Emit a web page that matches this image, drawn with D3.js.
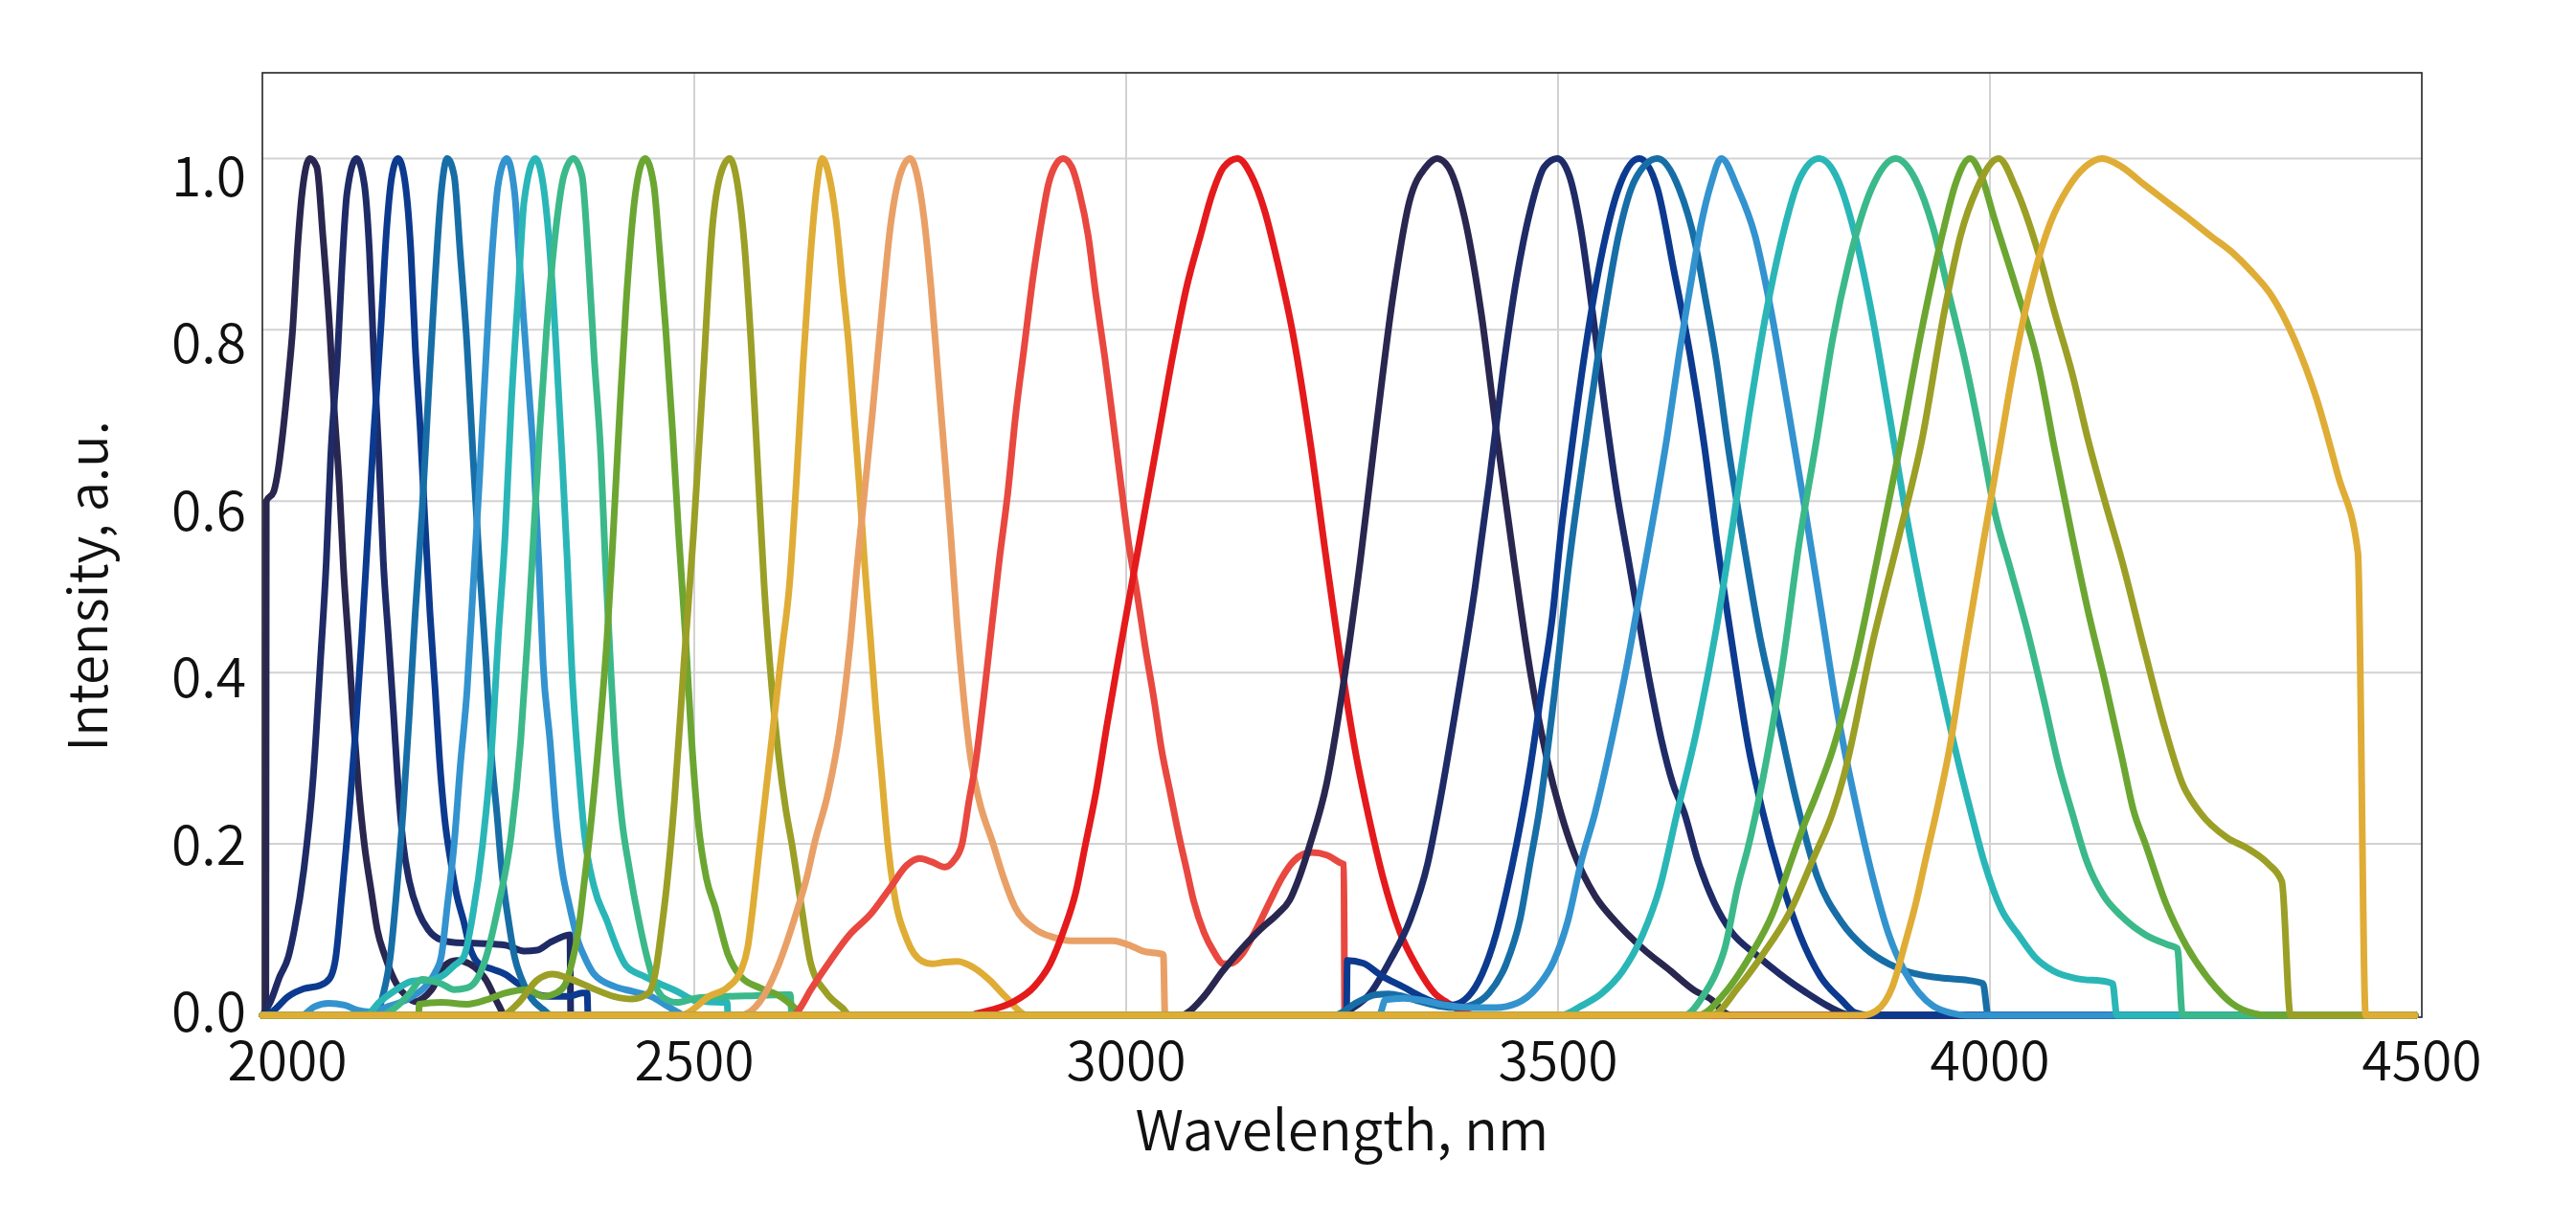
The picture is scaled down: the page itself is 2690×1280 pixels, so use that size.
<!DOCTYPE html>
<html lang="en">

<head>
    <meta charset="UTF-8">
    <title>spectra</title>
    <script src="https://cdn.jsdelivr.net/npm/d3@7"></script>
    <style>
        html, body { margin: 0; padding: 0; background: #fff; }
        #chart { width: 2690px; height: 1280px; }
        text { font-family: "Noto Sans CJK SC", "Noto Sans", sans-serif; font-weight: 350; fill: #111; }
    </style>
</head>

<body>
    <div id="chart"></div>
</body>

<script>
    // [wavelength nm, intensity], one array per filter
    const c2055 = [[2004,0],[2004.5,0.6],[2013,0.611],[2018,0.635],[2024,0.683],[2030,0.743],[2035,0.8],[2041,0.9],[2046,0.96],[2055,1.0],[2063,0.99],[2070,0.91],[2078,0.8],[2083,0.71],[2089,0.62],[2094,0.52],[2100,0.43],[2105,0.35],[2111,0.27],[2118,0.2],[2126,0.145],[2133,0.1],[2142,0.069],[2155,0.037],[2167,0.022],[2177,0.016],[2186,0.02],[2196,0.03],[2211,0.058],[2225,0.064],[2240,0.06],[2259,0.041],[2273,0.013],[2281,0],[4492,0]];
    const c2109 = [[2000,0],[2009,0.015],[2020,0.045],[2030,0.068],[2037,0.1],[2048,0.17],[2059,0.28],[2067,0.41],[2074,0.53],[2079,0.65],[2087,0.77],[2092,0.87],[2098,0.96],[2109,1.0],[2118,0.97],[2124,0.89],[2129,0.77],[2135,0.65],[2140,0.53],[2146,0.44],[2152,0.35],[2157,0.27],[2163,0.2],[2170,0.157],[2181,0.12],[2192,0.1],[2207,0.088],[2222,0.085],[2251,0.084],[2281,0.082],[2303,0.075],[2318,0.076],[2333,0.085],[2351,0.093],[2356,0.094],[2357,0],[4492,0]];
    const c2157 = [[2000,0],[2011,0.004],[2030,0.022],[2048,0.031],[2067,0.035],[2078,0.043],[2085,0.068],[2092,0.14],[2100,0.23],[2107,0.32],[2115,0.44],[2122,0.56],[2129,0.68],[2137,0.8],[2144,0.92],[2150,0.98],[2157,1.0],[2164,0.98],[2172,0.89],[2177,0.78],[2183,0.68],[2188,0.58],[2194,0.47],[2200,0.38],[2205,0.3],[2211,0.23],[2218,0.18],[2225,0.14],[2233,0.11],[2240,0.08],[2251,0.06],[2266,0.054],[2281,0.048],[2296,0.037],[2314,0.026],[2333,0.022],[2355,0.022],[2370,0.026],[2376,0.026],[2377,0],[4492,0]];
    const c2214 = [[2000,0],[2130,0],[2140,0.025],[2148,0.068],[2155,0.14],[2163,0.24],[2170,0.35],[2177,0.47],[2185,0.59],[2192,0.72],[2200,0.86],[2207,0.96],[2214,1.0],[2222,0.98],[2229,0.89],[2237,0.78],[2244,0.65],[2251,0.53],[2259,0.41],[2264,0.32],[2272,0.23],[2277,0.17],[2285,0.11],[2292,0.068],[2299,0.045],[2310,0.022],[2325,0.007],[2335,0],[4492,0]];
    const c2283 = [[2000,0],[2045,0],[2060,0.01],[2077,0.014],[2095,0.012],[2110,0.006],[2125,0.004],[2145,0.01],[2170,0.02],[2190,0.035],[2200,0.05],[2207,0.068],[2214,0.127],[2222,0.2],[2229,0.29],[2237,0.38],[2244,0.5],[2251,0.62],[2259,0.77],[2266,0.89],[2273,0.97],[2283,1.0],[2292,0.96],[2299,0.86],[2307,0.75],[2314,0.65],[2320,0.53],[2325,0.41],[2333,0.32],[2340,0.23],[2347,0.17],[2355,0.13],[2366,0.085],[2373,0.068],[2384,0.048],[2407,0.034],[2428,0.028],[2450,0.022],[2470,0.01],[2482,0.003],[2488,0],[4492,0]];
    const c2316 = [[2000,0],[2120,0],[2135,0.015],[2155,0.03],[2174,0.04],[2192,0.041],[2211,0.048],[2222,0.058],[2233,0.068],[2244,0.12],[2255,0.2],[2266,0.32],[2273,0.44],[2281,0.56],[2288,0.71],[2296,0.84],[2303,0.95],[2316,1.0],[2325,0.97],[2333,0.89],[2340,0.78],[2347,0.65],[2353,0.53],[2358,0.41],[2366,0.29],[2373,0.21],[2384,0.15],[2399,0.11],[2410,0.08],[2421,0.058],[2443,0.045],[2462,0.036],[2480,0.028],[2502,0.017],[2532,0.015],[2538,0.015],[2539,0],[4492,0]];
    const c2360 = [[2000,0],[2137,0],[2155,0.01],[2170,0.025],[2185,0.042],[2196,0.04],[2207,0.037],[2222,0.03],[2237,0.032],[2250,0.045],[2259,0.068],[2273,0.127],[2288,0.21],[2299,0.32],[2307,0.44],[2314,0.56],[2321,0.68],[2329,0.8],[2340,0.92],[2349,0.98],[2360,1.0],[2370,0.98],[2377,0.89],[2384,0.77],[2392,0.65],[2397,0.53],[2403,0.41],[2408,0.32],[2416,0.23],[2425,0.17],[2436,0.11],[2446,0.065],[2455,0.035],[2465,0.02],[2480,0.015],[2502,0.02],[2535,0.022],[2572,0.023],[2605,0.024],[2611,0.024],[2613,0],[4492,0]];
    const c2443 = [[2000,0],[2181,0],[2181.5,0.013],[2207,0.015],[2237,0.013],[2259,0.018],[2281,0.026],[2307,0.03],[2325,0.022],[2340,0.026],[2350,0.035],[2358,0.06],[2366,0.1],[2372,0.15],[2381,0.23],[2392,0.35],[2399,0.44],[2406,0.56],[2414,0.71],[2421,0.83],[2432,0.96],[2443,1.0],[2453,0.97],[2460,0.89],[2467,0.8],[2475,0.68],[2482,0.56],[2490,0.44],[2497,0.32],[2504,0.23],[2514,0.16],[2524,0.127],[2539,0.071],[2554,0.045],[2576,0.032],[2598,0.023],[2617,0.008],[2625,0],[4492,0]];
    const c2541 = [[2000,0],[2277,0],[2296,0.014],[2318,0.041],[2336,0.048],[2355,0.043],[2381,0.032],[2407,0.022],[2428,0.019],[2447,0.026],[2455,0.05],[2462,0.1],[2468,0.15],[2477,0.25],[2488,0.41],[2499,0.56],[2510,0.74],[2521,0.92],[2530,0.98],[2541,1.0],[2550,0.97],[2558,0.9],[2566,0.78],[2574,0.63],[2581,0.5],[2590,0.38],[2598,0.3],[2606,0.24],[2613,0.2],[2624,0.127],[2635,0.06],[2653,0.026],[2672,0.008],[2680,0],[4492,0]];
    const c2648 = [[2000,0],[2485,0],[2491,0.002],[2517,0.022],[2539,0.033],[2554,0.052],[2562,0.08],[2568,0.127],[2576,0.2],[2585,0.28],[2594,0.36],[2602,0.43],[2610,0.5],[2618,0.62],[2626,0.76],[2634,0.88],[2641,0.96],[2648,1.0],[2656,0.98],[2664,0.93],[2672,0.85],[2679,0.78],[2685,0.7],[2691,0.62],[2697,0.53],[2704,0.44],[2710,0.36],[2717,0.28],[2724,0.2],[2731,0.145],[2746,0.089],[2764,0.063],[2775,0.06],[2790,0.062],[2805,0.063],[2823,0.056],[2842,0.041],[2860,0.022],[2886,0],[4492,0]];
    const c2750 = [[2000,0],[2555,0],[2561,0.002],[2580,0.022],[2598,0.06],[2617,0.116],[2631,0.164],[2639,0.2],[2655,0.26],[2668,0.33],[2680,0.43],[2690,0.54],[2697,0.61],[2706,0.7],[2717,0.82],[2727,0.92],[2738,0.98],[2750,1.0],[2758,0.98],[2766,0.93],[2774,0.85],[2782,0.75],[2790,0.65],[2797,0.56],[2804,0.46],[2812,0.37],[2820,0.3],[2830,0.25],[2846,0.2],[2857,0.164],[2871,0.127],[2894,0.101],[2916,0.091],[2936,0.087],[2984,0.087],[3008,0.08],[3019,0.075],[3043,0.071],[3045,0],[4492,0]];
    const c2927 = [[2000,0],[2615,0],[2620,0.005],[2635,0.03],[2657,0.063],[2679,0.093],[2705,0.119],[2727,0.149],[2746,0.175],[2761,0.183],[2775,0.179],[2790,0.173],[2800,0.18],[2810,0.2],[2818,0.25],[2825,0.29],[2835,0.37],[2844,0.45],[2853,0.53],[2863,0.61],[2872,0.7],[2882,0.78],[2892,0.86],[2901,0.92],[2910,0.97],[2917,0.99],[2927,1.0],[2937,0.99],[2946,0.96],[2956,0.91],[2965,0.84],[2975,0.77],[2984,0.7],[2994,0.62],[3003,0.55],[3013,0.49],[3022,0.43],[3032,0.37],[3041,0.31],[3051,0.26],[3061,0.21],[3070,0.17],[3078,0.134],[3090,0.097],[3101,0.075],[3113,0.06],[3123,0.061],[3134,0.071],[3149,0.097],[3167,0.134],[3180,0.16],[3194,0.18],[3205,0.188],[3215,0.19],[3232,0.187],[3248,0.178],[3252,0.176],[3253,0],[4492,0]];
    const c3129 = [[2000,0],[2820,0],[2827,0.002],[2850,0.008],[2868,0.015],[2894,0.034],[2912,0.06],[2927,0.097],[2942,0.145],[2953,0.2],[2965,0.26],[2978,0.34],[2990,0.41],[3006,0.5],[3022,0.59],[3038,0.68],[3054,0.77],[3070,0.85],[3086,0.91],[3100,0.96],[3113,0.99],[3129,1.0],[3145,0.98],[3160,0.94],[3175,0.88],[3194,0.79],[3213,0.67],[3232,0.53],[3252,0.39],[3265,0.31],[3282,0.226],[3297,0.162],[3317,0.097],[3337,0.056],[3357,0.026],[3373,0.014],[3393,0.003],[3405,0],[4492,0]];
    const c3360 = [[2000,0],[3064,0],[3071,0.003],[3090,0.022],[3112,0.052],[3134,0.078],[3156,0.101],[3175,0.118],[3189,0.134],[3200,0.16],[3213,0.2],[3232,0.27],[3252,0.39],[3271,0.53],[3290,0.69],[3309,0.84],[3328,0.95],[3347,0.99],[3360,1.0],[3373,0.99],[3392,0.93],[3411,0.82],[3430,0.67],[3449,0.53],[3468,0.4],[3487,0.3],[3503,0.237],[3519,0.188],[3543,0.139],[3567,0.109],[3598,0.078],[3630,0.052],[3658,0.029],[3678,0.018],[3693,0.003],[3700,0],[4492,0]];
    const c3499 = [[2000,0],[3248,0],[3260,0.007],[3282,0.025],[3305,0.063],[3329,0.112],[3349,0.177],[3361,0.237],[3382,0.36],[3404,0.5],[3420,0.62],[3436,0.75],[3452,0.86],[3468,0.94],[3484,0.99],[3499,1.0],[3513,0.98],[3526,0.92],[3540,0.82],[3554,0.71],[3568,0.61],[3580,0.54],[3592,0.47],[3606,0.39],[3620,0.32],[3633,0.27],[3646,0.237],[3662,0.18],[3681,0.131],[3701,0.097],[3729,0.071],[3757,0.048],[3788,0.026],[3812,0.011],[3828,0.003],[3840,0],[4492,0]];
    const c3594 = [[2000,0],[3255,0],[3256,0.064],[3274,0.061],[3296,0.046],[3321,0.033],[3341,0.022],[3361,0.014],[3377,0.012],[3396,0.022],[3412,0.048],[3428,0.094],[3440,0.143],[3452,0.2],[3468,0.29],[3481,0.38],[3494,0.47],[3503,0.56],[3513,0.64],[3532,0.78],[3551,0.89],[3570,0.965],[3594,1.0],[3615,0.965],[3634,0.87],[3653,0.77],[3670,0.66],[3683,0.56],[3702,0.43],[3721,0.31],[3737,0.237],[3757,0.162],[3780,0.094],[3804,0.045],[3828,0.018],[3844,0.003],[3860,0],[4492,0]];
    const c3615 = [[2000,0],[3241,0],[3267,0.015],[3289,0.024],[3304,0.025],[3321,0.022],[3341,0.016],[3361,0.011],[3385,0.009],[3400,0.012],[3420,0.026],[3440,0.06],[3456,0.112],[3468,0.18],[3478,0.237],[3494,0.36],[3513,0.53],[3532,0.67],[3551,0.8],[3570,0.91],[3589,0.975],[3615,1.0],[3640,0.965],[3659,0.9],[3670,0.84],[3683,0.765],[3696,0.67],[3715,0.55],[3734,0.44],[3754,0.35],[3776,0.25],[3800,0.162],[3828,0.109],[3856,0.078],[3883,0.06],[3902,0.052],[3926,0.046],[3950,0.043],[3974,0.041],[3992,0.037],[3998,0],[4492,0]];
    const c3689 = [[2000,0],[3293,0],[3300,0.018],[3321,0.02],[3341,0.018],[3369,0.012],[3400,0.009],[3428,0.009],[3452,0.014],[3476,0.033],[3495,0.063],[3511,0.109],[3527,0.18],[3543,0.237],[3564,0.33],[3580,0.41],[3596,0.5],[3612,0.59],[3627,0.68],[3640,0.77],[3653,0.85],[3665,0.92],[3677,0.97],[3689,1.0],[3708,0.965],[3728,0.91],[3747,0.82],[3766,0.71],[3786,0.59],[3805,0.47],[3824,0.35],[3844,0.25],[3864,0.162],[3883,0.094],[3902,0.05],[3918,0.026],[3934,0.011],[3954,0.003],[3974,0],[4492,0]];
    const c3802 = [[2000,0],[3503,0],[3527,0.011],[3551,0.026],[3575,0.052],[3598,0.094],[3618,0.15],[3638,0.237],[3660,0.33],[3683,0.45],[3702,0.57],[3721,0.7],[3741,0.82],[3760,0.91],[3779,0.975],[3802,1.0],[3824,0.975],[3844,0.91],[3863,0.82],[3882,0.71],[3902,0.59],[3921,0.49],[3940,0.4],[3960,0.31],[3978,0.237],[3993,0.18],[4013,0.124],[4033,0.094],[4053,0.067],[4073,0.052],[4100,0.043],[4136,0.039],[4142,0.037],[4147,0],[4492,0]];
    const c3891 = [[2000,0],[3646,0],[3670,0.026],[3683,0.05],[3693,0.078],[3708,0.15],[3721,0.2],[3734,0.26],[3747,0.33],[3760,0.41],[3779,0.55],[3799,0.67],[3818,0.79],[3837,0.88],[3863,0.965],[3891,1.0],[3914,0.975],[3934,0.92],[3953,0.84],[3972,0.76],[3992,0.66],[4005,0.59],[4024,0.52],[4043,0.45],[4062,0.37],[4080,0.29],[4095,0.237],[4112,0.18],[4132,0.139],[4152,0.116],[4180,0.094],[4207,0.082],[4217,0.078],[4223,0],[4492,0]];
    const c3977 = [[2000,0],[3662,0],[3693,0.026],[3721,0.067],[3749,0.12],[3768,0.175],[3784,0.22],[3800,0.26],[3818,0.31],[3844,0.41],[3869,0.53],[3895,0.66],[3921,0.8],[3947,0.92],[3960,0.97],[3977,1.0],[3990,0.98],[4005,0.93],[4030,0.85],[4056,0.76],[4075,0.66],[4095,0.56],[4114,0.47],[4133,0.39],[4153,0.3],[4166,0.24],[4180,0.2],[4204,0.13],[4228,0.08],[4255,0.04],[4280,0.014],[4306,0.002],[4320,0],[4492,0]];
    const c4010 = [[2000,0],[3677,0],[3709,0.033],[3737,0.071],[3768,0.12],[3796,0.184],[3818,0.237],[3831,0.28],[3863,0.43],[3895,0.56],[3921,0.67],[3947,0.82],[3966,0.91],[3985,0.965],[4010,1.0],[4030,0.965],[4056,0.89],[4075,0.82],[4095,0.75],[4114,0.67],[4133,0.6],[4153,0.53],[4178,0.43],[4204,0.33],[4223,0.27],[4243,0.237],[4275,0.207],[4298,0.195],[4322,0.177],[4338,0.156],[4348,0],[4492,0]];
    const c4130 = [[2000,0],[3852,0],[3868,0.005],[3887,0.033],[3902,0.085],[3914,0.13],[3926,0.184],[3938,0.237],[3953,0.31],[3972,0.43],[3992,0.55],[4011,0.66],[4030,0.77],[4050,0.86],[4070,0.925],[4090,0.965],[4110,0.99],[4130,1.0],[4153,0.99],[4178,0.97],[4204,0.95],[4230,0.93],[4255,0.91],[4281,0.89],[4301,0.87],[4326,0.84],[4352,0.79],[4378,0.72],[4403,0.63],[4426,0.54],[4435,0],[4492,0]];

    const curves = [c2055, c2109, c2157, c2214, c2283, c2316, c2360, c2443, c2541, c2648, c2750, c2927, c3129,
        c3360, c3499, c3594, c3615, c3689, c3802, c3891, c3977, c4010, c4130];
    const colors = ["#29264f", "#1e2b66", "#0c3a8f", "#176ea6", "#3393cf", "#2ab6b7", "#3bb98a", "#6ba632", "#9b9f26", "#dfad36", "#e9a067", "#e8483f", "#e41a1c",
        "#29264f", "#1e2b66", "#0c3a8f", "#176ea6", "#3393cf", "#2ab6b7", "#3bb98a", "#6ba632", "#9b9f26", "#dfad36"];

    const xTicks = [2000, 2500, 3000, 3500, 4000, 4500];
    const yTicks = [0, 0.2, 0.4, 0.6, 0.8, 1.0];
    const xTitle = "Wavelength, nm";
    const yTitle = "Intensity, a.u.";

    let draw = () => {
        let svg = d3.select("#chart").append("svg")
            .attr("width", 2690)
            .attr("height", 1280);

        let box = { left: 274, right: 2529, top: 76, bottom: 1062 };

        let x = d3.scaleLinear().domain([2000, 4500]).range([box.left, box.right]);
        let y = d3.scaleLinear().domain([-0.0022, 1.1]).range([box.bottom, box.top]);
        // tick labels sit a little off the grid in the original
        let yLab = d3.scaleLinear().domain([0, 1]).range([1077, 205]);

        // grid
        let grid = svg.append("g").attr("class", "grid");
        grid.selectAll(".vg")
            .data(xTicks.filter(d => d > 2000 && d < 4500))
            .enter().append("line")
            .attr("x1", d => x(d)).attr("x2", d => x(d))
            .attr("y1", box.top).attr("y2", box.bottom)
            .attr("stroke", "#d2d2d2").attr("stroke-width", 2);
        grid.selectAll(".hg")
            .data(yTicks.filter(d => d > 0))
            .enter().append("line")
            .attr("x1", box.left).attr("x2", box.right)
            .attr("y1", d => y(d)).attr("y2", d => y(d))
            .attr("stroke", "#d2d2d2").attr("stroke-width", 2);

        // frame
        svg.append("rect")
            .attr("x", box.left).attr("y", box.top)
            .attr("width", box.right - box.left).attr("height", box.bottom - box.top)
            .attr("fill", "none").attr("stroke", "#222").attr("stroke-width", 1.6);

        // spectra
        let line = d3.line()
            .x(d => x(d[0]))
            .y(d => y(d[1]))
            .curve(d3.curveMonotoneX);

        svg.append("g").attr("class", "lines")
            .selectAll("path")
            .data(curves)
            .enter().append("path")
            .attr("d", line)
            .attr("fill", "none")
            .attr("stroke", (d, i) => colors[i])
            .attr("stroke-width", 7)
            .attr("stroke-linejoin", "round")
            .attr("stroke-linecap", "round");

        // tick labels
        svg.append("g").attr("class", "xlab")
            .selectAll("text")
            .data(xTicks)
            .enter().append("text")
            .attr("x", (d, i) => x(d) + (i === 0 ? 26 : 0))
            .attr("y", 1128)
            .attr("text-anchor", "middle")
            .attr("font-size", 57)
            .text(d => d);

        svg.append("g").attr("class", "ylab")
            .selectAll("text")
            .data(yTicks)
            .enter().append("text")
            .attr("x", 257)
            .attr("y", d => yLab(d))
            .attr("text-anchor", "end")
            .attr("font-size", 57)
            .text(d => d.toFixed(1));

        // axis titles
        svg.append("text")
            .attr("x", (box.left + box.right) / 2)
            .attr("y", 1201)
            .attr("text-anchor", "middle")
            .attr("font-size", 58)
            .text(xTitle);

        svg.append("text")
            .attr("transform", "translate(112,612) rotate(-90)")
            .attr("text-anchor", "middle")
            .attr("font-size", 56)
            .text(yTitle);
    }
    draw();
</script>

</html>
